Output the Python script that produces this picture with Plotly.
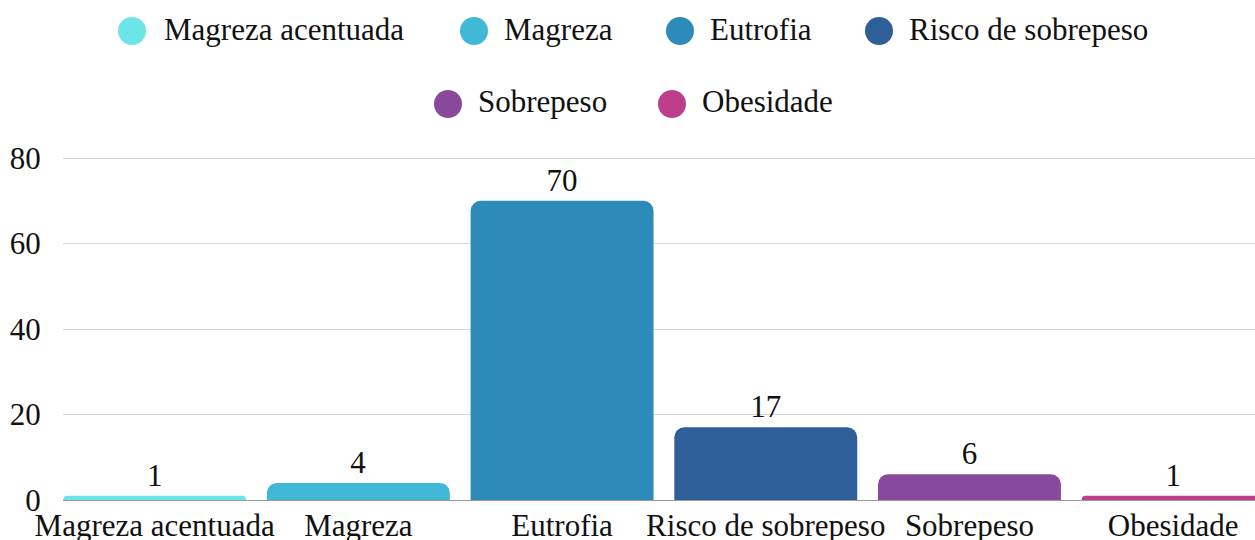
import plotly.graph_objects as go

categories = ["Magreza acentuada", "Magreza", "Eutrofia", "Risco de sobrepeso", "Sobrepeso", "Obesidade"]
values = [1, 4, 70, 17, 6, 1]
colors = ["#6CE5E8", "#41B8D5", "#2D8BBA", "#2F5F98", "#88489C", "#BD3F8B"]
y_ticks = [0, 20, 40, 60, 80]

W, H = 1255, 540
L, R, T, B = 63, 0, 150, 40
PW, PH = W - L - R, H - T - B
FONT = "Liberation Serif, Times New Roman, serif"
FS = 31
PX_PER_UNIT = 342 / 80.0          # 80 -> y=158, 0 -> y=500
YMAX = PH / PX_PER_UNIT

def px_x(px):
    return (px - L) / PW

def px_y(py):
    return (H - B - py) / PH

fig = go.Figure()
fig.add_trace(go.Bar(
    x=list(range(len(categories))),
    y=values,
    marker=dict(color=colors, line=dict(width=0)),
    text=[str(v) for v in values],
    textposition="outside",
    textfont=dict(family=FONT, size=FS, color="#111"),
    cliponaxis=False,
    showlegend=False,
    hoverinfo="x+y",
))

# manual legend (circles + text)
leg_cx = [132, 474, 680, 879, 448, 672]
leg_cy = [31, 31, 31, 31, 104, 104]
leg_tx = [163, 503, 709, 908, 477, 701]
shapes = []
annotations = []
for name, col, cx, cy, tx in zip(categories, colors, leg_cx, leg_cy, leg_tx):
    shapes.append(dict(type="circle", xref="paper", yref="paper",
                       xsizemode="pixel", ysizemode="pixel",
                       xanchor=px_x(cx), yanchor=px_y(cy),
                       x0=-14, x1=14, y0=-14, y1=14,
                       fillcolor=col, line=dict(width=0)))
    annotations.append(dict(text=name, xref="paper", yref="paper",
                            x=px_x(tx), y=px_y(cy - 2), xanchor="left", yanchor="middle",
                            showarrow=False, borderpad=0,
                            font=dict(family=FONT, size=FS, color="#111")))

fig.update_layout(
    width=W, height=H,
    margin=dict(l=L, r=R, t=T, b=B, pad=0, autoexpand=False),
    paper_bgcolor="white", plot_bgcolor="white",
    bargap=0.102,
    font=dict(family=FONT, size=FS, color="#111"),
    shapes=shapes, annotations=annotations,
    xaxis=dict(
        tickmode="array", tickvals=list(range(len(categories))), ticktext=categories,
        range=[-0.45, -0.45 + PW / 203.7],
        showgrid=False, zeroline=False, automargin=False,
        showline=True, linecolor="#9a9a9a", linewidth=1,
        ticks="", ticklabelstandoff=-2,
        tickfont=dict(family=FONT, size=FS, color="#111"),
    ),
    yaxis=dict(
        range=[0, YMAX], tickvals=y_ticks, automargin=False,
        showgrid=True, gridcolor="#d6d6d6", gridwidth=1,
        zeroline=False, showline=False,
        ticks="outside", ticklen=15, tickcolor="rgba(0,0,0,0)",
        tickfont=dict(family=FONT, size=FS, color="#111"),
    ),
    barcornerradius=10,
)

fig.write_html("out.html", config={"displayModeBar": False},
               post_script="document.body.style.margin='0px';")
